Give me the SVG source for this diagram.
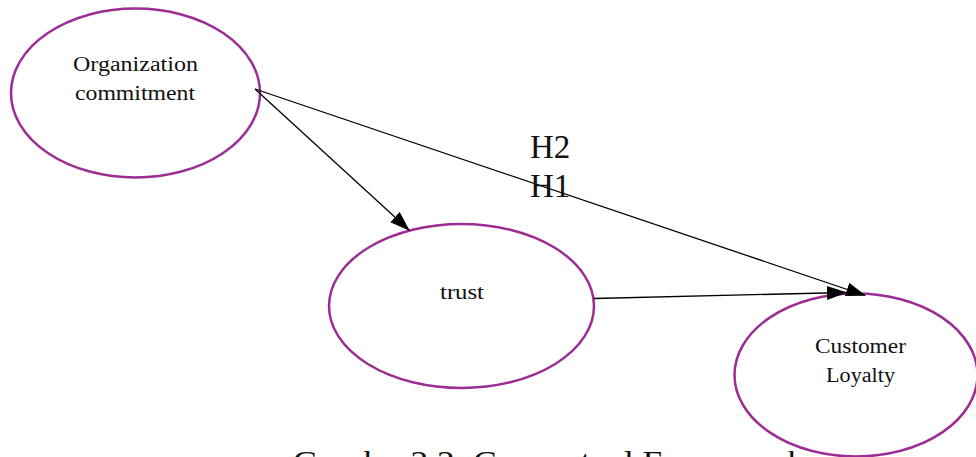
<svg xmlns="http://www.w3.org/2000/svg" width="976" height="457" viewBox="0 0 976 457">
<style>
.node{fill:#fff;stroke:#9B2D94;stroke-width:2.5}
.lbl{font-family:"Liberation Serif","Times New Roman",serif;font-size:20px;fill:#111;text-anchor:middle}
.h{font-family:"Liberation Serif","Times New Roman",serif;font-size:33px;fill:#111}
.edge{stroke:#000;stroke-width:1.3;fill:none}
</style>
<defs>
<marker id="arr" markerWidth="20" markerHeight="14" refX="19" refY="7" orient="auto" markerUnits="userSpaceOnUse">
<path d="M0,0 L20,7 L0,14 Z" fill="#000"/>
</marker>
</defs>
<rect width="976" height="457" fill="#fff"/>
<g id="node-org">
<ellipse class="node" cx="135.5" cy="93" rx="124.5" ry="84.5"/>
<text class="lbl" x="135.5" y="71" textLength="125" lengthAdjust="spacingAndGlyphs">Organization</text>
<text class="lbl" x="135" y="100" textLength="120" lengthAdjust="spacingAndGlyphs">commitment</text>
</g>
<g id="node-trust">
<ellipse class="node" cx="461.5" cy="306" rx="132.5" ry="82"/>
<text class="lbl" x="462" y="299" textLength="44" lengthAdjust="spacingAndGlyphs">trust</text>
</g>
<g id="node-loyalty">
<ellipse class="node" cx="856" cy="375" rx="121.5" ry="81.5"/>
<text class="lbl" x="860.5" y="353" textLength="91" lengthAdjust="spacingAndGlyphs">Customer</text>
<text class="lbl" x="860.5" y="382" textLength="69" lengthAdjust="spacingAndGlyphs">Loyalty</text>
</g>
<g id="connectors">
<line class="edge" x1="255" y1="89" x2="409" y2="230" marker-end="url(#arr)"/>
<line class="edge" x1="255" y1="89" x2="865" y2="295.5" marker-end="url(#arr)"/>
<line class="edge" x1="594" y1="298.5" x2="846" y2="292.5" marker-end="url(#arr)"/>
</g>
<g id="labels">
<text class="h" x="530" y="158">H2</text>
<text class="h" x="530" y="197">H1</text>
<text x="293" y="471" font-family="Liberation Serif, Times New Roman, serif" font-size="30" fill="#111" textLength="512" lengthAdjust="spacingAndGlyphs">Graph - 2.2: Conceptual Framework</text>
</g>
</svg>
